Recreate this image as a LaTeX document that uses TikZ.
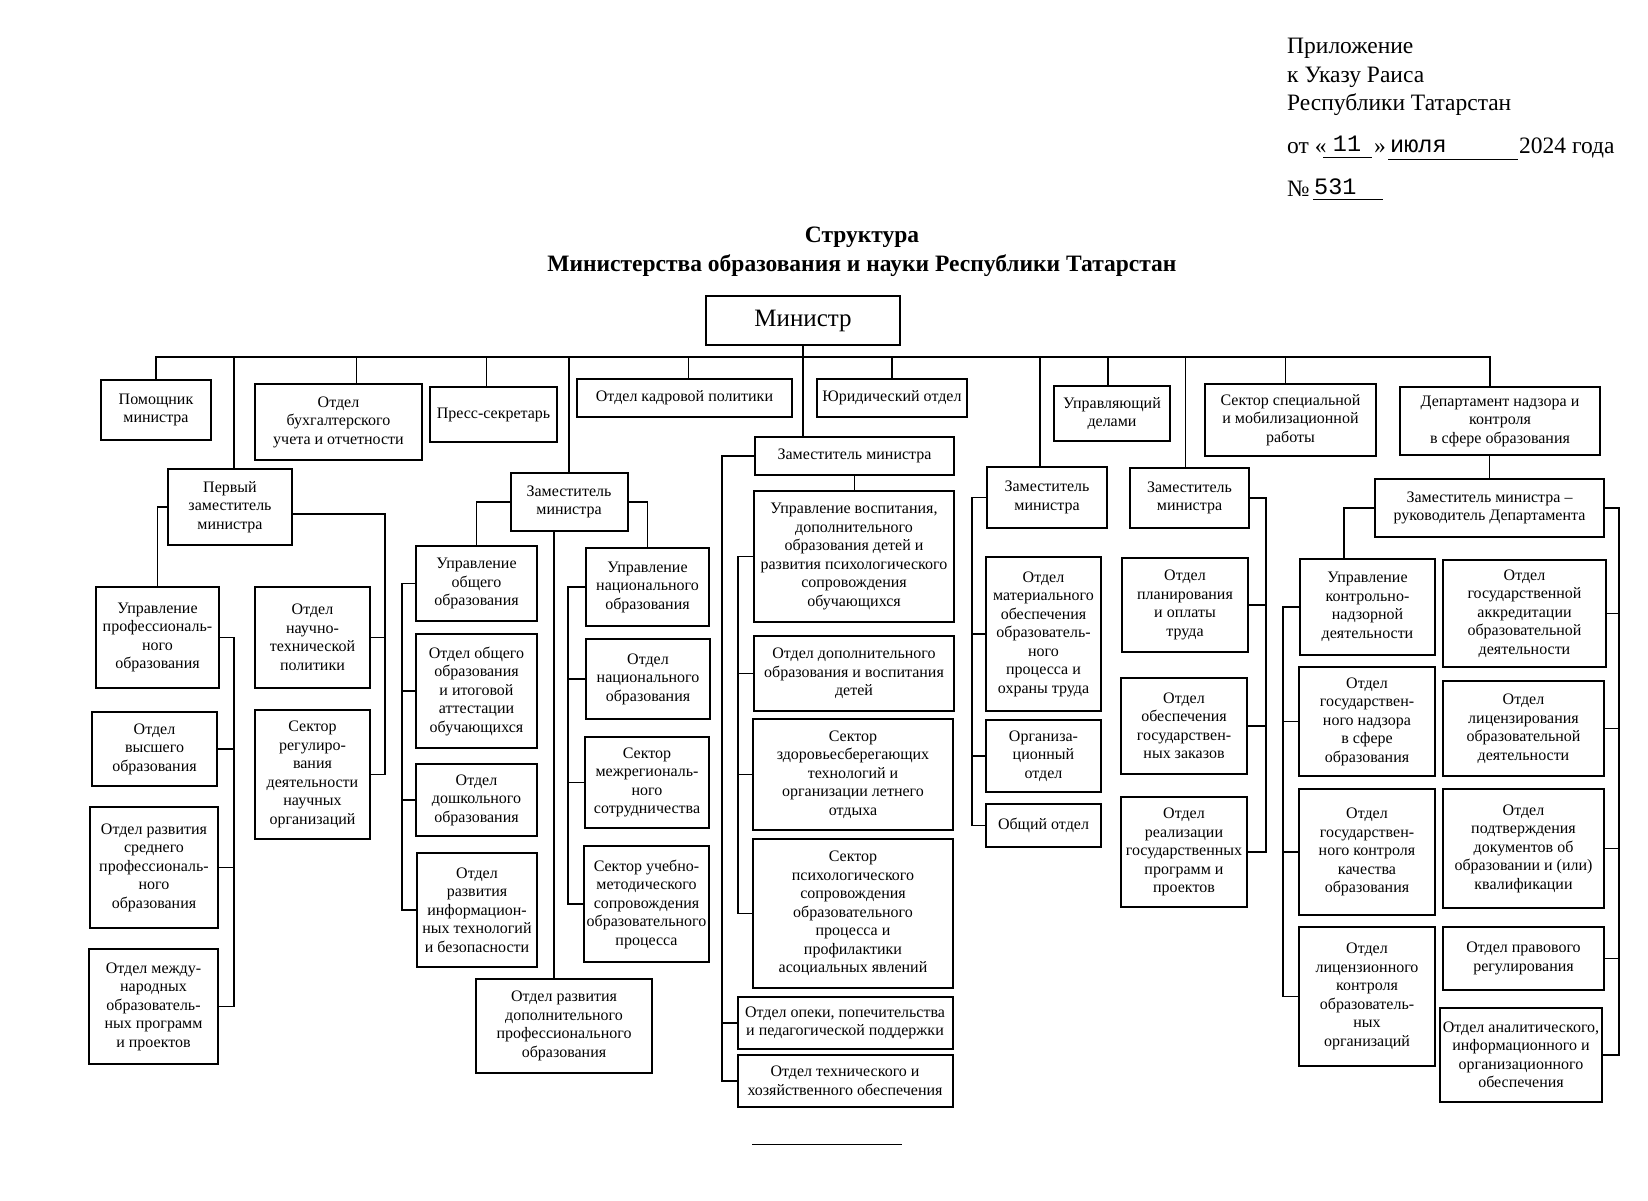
\documentclass[tikz,border=0pt]{standalone}
\usepackage{fontspec}
\setmainfont{Liberation Serif}
\newfontfamily\fillfont{Liberation Mono}
\newcommand\boxsize{\fontsize{16}{18.5}\selectfont}
\newcommand\hdrsize{\fontsize{23.5}{28}\selectfont}
\tikzset{
  unit/.style={draw, line width=2pt, align=center, inner sep=1pt, font=\boxsize},
  wh/.style 2 args={minimum width=#1pt, minimum height=#2pt},
  link/.style={line width=1.7pt},
}
\begin{document}
\begin{tikzpicture}[x=1pt, y=-1pt]
\useasboundingbox (0,0) rectangle (1648,1200);
% header
\node[anchor=base west, inner sep=0, font=\hdrsize] (app1) at (1287,53) {Приложение};
\node[anchor=base west, inner sep=0, font=\hdrsize] (app2) at (1287,82) {к Указу Раиса};
\node[anchor=base west, inner sep=0, font=\hdrsize] (app3) at (1287,110) {Республики Татарстан};
\node[anchor=base west, inner sep=0, font=\hdrsize] (ot) at (1287,153) {от «};
\node[anchor=base, inner sep=0, font=\hdrsize\fillfont] (day) at (1347,151) {11};
\node[anchor=base west, inner sep=0, font=\hdrsize] (q) at (1374,153) {»};
\node[anchor=base west, inner sep=0, font=\hdrsize\fillfont] (month) at (1390,152) {июля};
\node[anchor=base west, inner sep=0, font=\hdrsize] (year) at (1519,153) {2024 года};
\node[anchor=base west, inner sep=0, font=\hdrsize] (no) at (1287,196) {№};
\node[anchor=base west, inner sep=0, font=\hdrsize\fillfont] (num) at (1314,194) {531};
\draw[line width=1pt] (1323,157) -- (1372,157);
\draw[line width=1pt] (1388,159) -- (1518,159);
\draw[line width=1pt] (1313,199) -- (1383,199);
% title
\node[font=\fontsize{23.5}{28}\selectfont\bfseries] (ttl1) at (862,237) {Структура};
\node[font=\fontsize{23.5}{28}\selectfont\bfseries] (ttl2) at (862,266) {Министерства образования и науки Республики Татарстан};

% top level
\node[unit, wh={194}{49}, font=\fontsize{25}{28}\selectfont] (min) at (803,320.5) {Министр};
\node[unit, wh={110}{60}] (pom) at (156,410) {Помощник\\министра};
\node[unit, wh={167}{76}] (buh) at (338.5,422) {Отдел\\бухгалтерского\\учета и отчетности};
\node[unit, wh={127}{55}] (press) at (493.5,414.5) {Пресс-секретарь};
\node[unit, wh={215}{38}] (kadr) at (684.5,398) {Отдел кадровой политики};
\node[unit, wh={150}{38}] (yur) at (892,398) {Юридический отдел};
\node[unit, wh={116}{55}] (upd) at (1112,413.5) {Управляющий\\делами};
\node[unit, wh={171}{72}] (spec) at (1290.5,420) {Сектор специальной\\и мобилизационной\\работы};
\node[unit, wh={200}{68}] (dep) at (1500,421) {Департамент надзора и\\контроля\\в сфере образования};

% first deputy
\node[unit, wh={124}{76}] (pz) at (230,507) {Первый\\заместитель\\министра};
\node[unit, wh={123}{101}] (upo) at (157.5,637.5) {Управление\\профессиональ-\\ного\\образования};
\node[unit, wh={125}{74}] (ovo) at (154.5,749) {Отдел\\высшего\\образования};
\node[unit, wh={128}{121}] (ors) at (154,867.5) {Отдел развития\\среднего\\профессиональ-\\ного\\образования};
\node[unit, wh={129}{115}] (omn) at (153.5,1006.5) {Отдел между-\\народных\\образователь-\\ных программ\\и проектов};
\node[unit, wh={115}{101}] (ont) at (312.5,637.5) {Отдел\\научно-\\технической\\политики};
\node[unit, wh={115}{129}] (srn) at (312.5,774.5) {Сектор\\регулиро-\\вания\\деятельности\\научных\\организаций};

% deputy 2
\node[unit, wh={117}{58}] (z2) at (569,502) {Заместитель\\министра};
\node[unit, wh={121}{75}] (uoo) at (476.5,583.5) {Управление\\общего\\образования};
\node[unit, wh={121}{114}] (oio) at (476.5,691) {Отдел общего\\образования\\и итоговой\\аттестации\\обучающихся};
\node[unit, wh={121}{72}] (odo) at (476.5,800) {Отдел\\дошкольного\\образования};
\node[unit, wh={120}{114}] (orit) at (477,910) {Отдел\\развития\\информацион-\\ных технологий\\и безопасности};
\node[unit, wh={176}{94}] (odp) at (564,1026) {Отдел развития\\дополнительного\\профессионального\\образования};
\node[unit, wh={123}{78}] (uno) at (647.5,587) {Управление\\национального\\образования};
\node[unit, wh={124}{80}] (ono) at (648,679) {Отдел\\национального\\образования};
\node[unit, wh={124}{91}] (smr) at (647,782.5) {Сектор\\межрегиональ-\\ного\\сотрудничества};
\node[unit, wh={125}{116}] (sum) at (646.5,904) {Сектор учебно-\\методического\\сопровождения\\образовательного\\процесса};

% deputy 3
\node[unit, wh={199}{38}] (z3) at (854.5,456) {Заместитель министра};
\node[unit, wh={200}{131}] (uvo) at (854,556.5) {Управление воспитания,\\дополнительного\\образования детей и\\развития психологического\\сопровождения\\обучающихся};
\node[unit, wh={200}{75}] (odv) at (854,673.5) {Отдел дополнительного\\образования и воспитания\\детей};
\node[unit, wh={200}{111}] (szt) at (853,774.5) {Сектор\\здоровьесберегающих\\технологий и\\организации летнего\\отдыха};
\node[unit, wh={200}{149}] (spp) at (853,913.5) {Сектор\\психологического\\сопровождения\\образовательного\\процесса и\\профилактики\\асоциальных явлений};
\node[unit, wh={215}{52}] (oop) at (845,1023) {Отдел опеки, попечительства\\и педагогической поддержки};
\node[unit, wh={215}{52}] (otx) at (845,1081) {Отдел технического и\\хозяйственного обеспечения};

% deputy 4
\node[unit, wh={120}{61}] (z4) at (1047,497.5) {Заместитель\\министра};
\node[unit, wh={115}{154}] (omo) at (1043.5,634) {Отдел\\материального\\обеспечения\\образователь-\\ного\\процесса и\\охраны труда};
\node[unit, wh={115}{72}] (oro) at (1043.5,756) {Организа-\\ционный\\отдел};
\node[unit, wh={115}{43}] (oob) at (1043.5,825.5) {Общий отдел};

% deputy 5
\node[unit, wh={119}{60}] (z5) at (1189.5,498) {Заместитель\\министра};
\node[unit, wh={126}{94}] (opl) at (1185,605) {Отдел\\планирования\\и оплаты\\труда};
\node[unit, wh={126}{96}] (ogz) at (1184,726) {Отдел\\обеспечения\\государствен-\\ных заказов};
\node[unit, wh={126}{110}] (orp) at (1184,852) {Отдел\\реализации\\государственных\\программ и\\проектов};

% department
\node[unit, wh={229}{58}] (zr) at (1489.5,508) {Заместитель министра –\\руководитель Департамента};
\node[unit, wh={135}{96}] (ukn) at (1367.5,607) {Управление\\контрольно-\\надзорной\\деятельности};
\node[unit, wh={136}{109}] (ogn) at (1367,721.5) {Отдел\\государствен-\\ного надзора\\в сфере\\образования};
\node[unit, wh={136}{126}] (ogk) at (1367,852) {Отдел\\государствен-\\ного контроля\\качества\\образования};
\node[unit, wh={136}{139}] (olk) at (1367,996.5) {Отдел\\лицензионного\\контроля\\образователь-\\ных\\организаций};
\node[unit, wh={163}{107}] (oga) at (1524.5,613.5) {Отдел\\государственной\\аккредитации\\образовательной\\деятельности};
\node[unit, wh={161}{95}] (oli) at (1523.5,728.5) {Отдел\\лицензирования\\образовательной\\деятельности};
\node[unit, wh={161}{119}] (opd) at (1523.5,848.5) {Отдел\\подтверждения\\документов об\\образовании и (или)\\квалификации};
\node[unit, wh={161}{63}] (opr) at (1523.5,958.5) {Отдел правового\\регулирования};
\node[unit, wh={162}{94}] (oai) at (1521,1055) {Отдел аналитического,\\информационного и\\организационного\\обеспечения};

% buses
\coordinate (bus) at (0,357);
\coordinate (busR) at (1490,357);
\coordinate (b1) at (234,0);
\coordinate (b2) at (385,0);
\coordinate (b3) at (402,0);
\coordinate (b4) at (568,0);
\coordinate (b5) at (554,0);
\coordinate (b6) at (722,0);
\coordinate (b7) at (738,0);
\coordinate (b8) at (972,0);
\coordinate (b9) at (1266,0);
\coordinate (b10) at (1344,0);
\coordinate (b11) at (1283,0);
\coordinate (b12) at (1619,0);

\begin{scope}[link]
% minister
\draw (min.south) -- (min.south |- z3.north);
\draw (pom.north) |- (busR) -- (busR |- dep.north);
\draw ([xshift=18pt]buh.north) -- ([xshift=18pt]buh.north |- bus);
\draw ([xshift=-7pt]press.north) -- ([xshift=-7pt]press.north |- bus);
\draw ([xshift=4pt]kadr.north) -- ([xshift=4pt]kadr.north |- bus);
\draw (yur.north) -- (yur.north |- bus);
\draw ([xshift=-4pt]upd.north) -- ([xshift=-4pt]upd.north |- bus);
\draw ([xshift=-5pt]spec.north) -- ([xshift=-5pt]spec.north |- bus);
\draw ([xshift=4pt]pz.north) -- ([xshift=4pt]pz.north |- bus);
\draw (z2.north) -- (z2.north |- bus);
\draw ([xshift=-7pt]z4.north) -- ([xshift=-7pt]z4.north |- bus);
\draw ([xshift=-4pt]z5.north) -- ([xshift=-4pt]z5.north |- bus);
% first deputy
\draw (pz.west) -| (upo.north);
\draw (upo.east) -| (b1 |- omn.east) -- (omn.east);
\draw (ovo.east) -- (ovo.east -| b1);
\draw (ors.east) -- (ors.east -| b1);
\draw ([yshift=-7pt]pz.east) -| (b2 |- srn.east) -- (srn.east);
\draw (ont.east) -- (ont.east -| b2);
% deputy 2
\draw (z2.west) -| (uoo.north);
\draw (uoo.west) -| (b3 |- orit.west) -- (orit.west);
\draw (oio.west) -- (oio.west -| b3);
\draw (odo.west) -- (odo.west -| b3);
\draw (z2.east) -| (uno.north);
\draw (uno.west) -| (b4 |- sum.west) -- (sum.west);
\draw (ono.west) -- (ono.west -| b4);
\draw (smr.west) -- (smr.west -| b4);
\draw (b5 |- z2.south) -- (b5 |- odp.north);
% deputy 3
\draw (z3.west) -| (b6 |- otx.west) -- (otx.west);
\draw (oop.west) -- (oop.west -| b6);
\draw (z3.south) -- (z3.south |- uvo.north);
\draw (uvo.west) -| (b7 |- spp.west) -- (spp.west);
\draw (odv.west) -- (odv.west -| b7);
\draw (szt.west) -- (szt.west -| b7);
% deputy 4
\draw (z4.west) -| (b8 |- oob.west) -- (oob.west);
\draw (omo.west) -- (omo.west -| b8);
\draw (oro.west) -- (oro.west -| b8);
% deputy 5
\draw (z5.east) -| (b9 |- orp.east) -- (orp.east);
\draw (opl.east) -- (opl.east -| b9);
\draw (ogz.east) -- (ogz.east -| b9);
% department
\draw (zr.north |- dep.south) -- (zr.north);
\draw (zr.west) -| (b10 |- ukn.north);
\draw (ukn.west) -| (b11 |- olk.west) -- (olk.west);
\draw (ogn.west) -- (ogn.west -| b11);
\draw (ogk.west) -- (ogk.west -| b11);
\draw (zr.east) -| (b12 |- oai.east) -- (oai.east);
\draw (oga.east) -- (oga.east -| b12);
\draw (oli.east) -- (oli.east -| b12);
\draw (opd.east) -- (opd.east -| b12);
\draw (opr.east) -- (opr.east -| b12);
\end{scope}
% closing rule
\draw[line width=1pt] (752,1144) -- (902,1144);
\end{tikzpicture}
\end{document}
